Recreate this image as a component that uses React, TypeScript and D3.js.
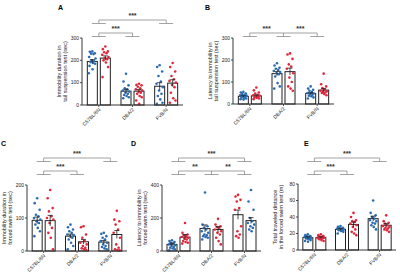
import React from "react";
import * as d3 from "d3";

const groups = ["C57BL/6N", "DBA/2", "FVB/N"];
const BLUE = "#2b6cb0";
const RED = "#e0263a";

// Panel A - tail suspension immobility (sec)
const aMeans = [195, 210, 62, 62, 84, 98];
const aSem = [8, 10, 8, 7, 16, 15];
const aPts = [
  [240, 238, 232, 230, 228, 215, 208, 200, 196, 192, 188, 185, 175, 160, 142],
  [262, 250, 240, 236, 232, 225, 215, 210, 205, 200, 190, 170, 125],
  [140, 105, 88, 75, 70, 65, 60, 55, 50, 45, 40, 35, 30],
  [95, 90, 88, 82, 75, 70, 65, 60, 55, 50, 40, 35, 20, 5],
  [178, 170, 150, 130, 105, 95, 80, 65, 50, 40, 25, 10, 5],
  [188, 170, 150, 130, 115, 108, 100, 90, 80, 55, 30, 20, 10],
];
// Panel B - latency to immobility tail suspension (sec)
const bMeans = [35, 37, 138, 147, 48, 63];
const bSem = [3, 4, 10, 16, 4, 7];
const bPts = [
  [55, 52, 48, 45, 42, 40, 38, 35, 33, 30, 28, 25, 22, 20],
  [75, 62, 52, 48, 42, 40, 38, 35, 33, 30, 28, 25, 22],
  [185, 175, 165, 160, 155, 150, 145, 140, 135, 125, 95, 80, 70],
  [230, 225, 205, 180, 170, 160, 140, 120, 100, 80, 70, 60],
  [80, 70, 65, 60, 55, 50, 48, 45, 42, 38, 35, 30, 25],
  [138, 90, 80, 72, 65, 60, 58, 55, 52, 50, 45, 40],
];
// Panel C - immobility forced swim (sec)
const cMeans = [93, 92, 45, 28, 27, 50];
const cSem = [10, 16, 6, 7, 5, 12];
const cPts = [
  [160, 145, 125, 110, 105, 100, 95, 90, 85, 80, 70, 60, 45],
  [185, 160, 130, 120, 105, 100, 95, 85, 70, 55, 40, 5],
  [80, 72, 65, 60, 55, 50, 48, 45, 40, 35, 25, 15, 5],
  [75, 72, 50, 40, 30, 25, 20, 15, 10, 8, 5, 3],
  [55, 52, 45, 40, 35, 30, 25, 20, 15, 12, 8, 5],
  [122, 95, 90, 80, 65, 55, 40, 20, 10, 5, 3, 2],
];
// Panel D - latency to immobility forced swim (sec); FVB/N shown red first
const dMeans = [40, 84, 136, 130, 220, 184];
const dSem = [8, 16, 22, 18, 28, 18];
const dPts = [
  [65, 60, 55, 50, 45, 40, 35, 30, 25, 20, 15, 10, 5],
  [170, 110, 100, 95, 90, 85, 80, 75, 70, 60, 55, 50, 45],
  [355, 160, 150, 140, 130, 120, 110, 100, 95, 90, 85, 80, 70],
  [195, 160, 150, 145, 140, 130, 120, 110, 100, 80, 60, 40],
  [340, 330, 310, 300, 260, 250, 150, 120, 100, 90, 80],
  [370, 300, 250, 200, 180, 170, 160, 150, 140, 130, 120],
];
const dColors = [BLUE, RED, BLUE, RED, RED, BLUE];
// Panel E - total traveled distance forced swim (m)
const eMeans = [15, 15, 25, 31, 38, 30];
const eSem = [1, 1, 1, 3, 3, 2];
const ePts = [
  [19, 18, 17, 17, 16, 16, 15, 15, 14, 14, 13, 12, 11, 10],
  [19, 18, 17, 16, 16, 15, 15, 14, 14, 13, 12, 11],
  [29, 28, 27, 27, 26, 26, 25, 25, 24, 24, 23, 22, 20],
  [45, 40, 36, 35, 34, 32, 30, 28, 25, 22, 20, 18],
  [60, 45, 42, 40, 38, 36, 35, 33, 32, 30, 28, 25],
  [42, 35, 33, 32, 30, 29, 28, 27, 26, 25, 24, 22],
];

const aTicks = [0, 100, 200, 300];
const bTicks = [0, 100, 200, 300];
const cTicks = [0, 100, 200];
const dTicks = [0, 200, 400];
const eTicks = [0, 20, 40, 60, 80];

const defColors = [BLUE, RED, BLUE, RED, BLUE, RED];

type Bracket = { y: number; g: number[]; stars: { pos: number; text: string }[] };

type PanelProps = {
  letter: string;
  lx: number;
  ly: number;
  x0: number;
  x1: number;
  yTop: number;
  y0: number;
  max: number;
  ticks: number[];
  means: number[];
  sem: number[];
  pts: number[][];
  colors: string[];
  title: string[];
  brackets: Bracket[];
};

const FONT = "Liberation Sans, Arial, sans-serif";

function Panel(p: PanelProps) {
  const xb = d3.scaleBand<string>().domain(groups).range([p.x0, p.x1]);
  const y = d3.scaleLinear().domain([0, p.max]).range([p.y0, p.yTop]);
  const cx = (g: number) => (xb(groups[g]) as number) + xb.bandwidth() / 2;
  const bw = 10;
  const off = 6.5;
  const jit = [0, -2.5, 2.5, -1.2, 1.2, -3.2, 3.2, -0.6, 1.8, -1.8, 0.6, 2.8, -2.8, 0.2, -3.6];
  const bars = p.means.map((m, i) => {
    const g = Math.floor(i / 2);
    const bx = cx(g) + (i % 2 === 0 ? -off : off);
    return { m, s: p.sem[i], bx, pts: p.pts[i], col: p.colors[i] };
  });
  return (
    <g>
      <text x={p.lx} y={p.ly} fontSize={7} fontWeight="bold" fontFamily={FONT}>
        {p.letter}
      </text>
      {/* brackets */}
      {p.brackets.map((b, bi) => {
        const xs = b.g.map(cx);
        const fy = b.y + 3.5;
        return (
          <g key={bi} stroke="#8c8c8c" strokeWidth={0.8} fill="none">
            <line x1={xs[0]} x2={xs[xs.length - 1]} y1={b.y} y2={b.y} />
            {xs.map((xx, k) => (
              <g key={k}>
                <line x1={xx} x2={xx} y1={b.y} y2={fy} />
                <line x1={xx - 7} x2={xx + 7} y1={fy} y2={fy} />
              </g>
            ))}
            {b.stars.map((s, k) => {
              const lo = Math.floor(s.pos);
              const fr = s.pos - lo;
              const sx = fr === 0 ? cx(lo) : cx(lo) + (cx(lo + 1) - cx(lo)) * fr;
              return (
                <text
                  key={"s" + k}
                  x={sx}
                  y={b.y - 2}
                  textAnchor="middle"
                  fontSize={7}
                  fontWeight="bold"
                  fill="#333"
                  stroke="none"
                  fontFamily={FONT}
                >
                  {s.text}
                </text>
              );
            })}
          </g>
        );
      })}
      {/* bars */}
      {bars.map((b, i) => (
        <rect
          key={"b" + i}
          x={b.bx - bw / 2}
          y={y(b.m)}
          width={bw}
          height={p.y0 - y(b.m)}
          fill="white"
          stroke="#222"
          strokeWidth={1}
        />
      ))}
      {/* points */}
      {bars.map((b, i) =>
        b.pts.map((v, k) => (
          <circle key={"p" + i + "-" + k} cx={b.bx + jit[k % jit.length]} cy={y(v)} r={1.3} fill={b.col} />
        ))
      )}
      {/* error bars */}
      {bars.map((b, i) => (
        <g key={"e" + i} stroke="#222" strokeWidth={0.8}>
          <line x1={b.bx} x2={b.bx} y1={y(b.m - b.s)} y2={y(b.m + b.s)} />
          <line x1={b.bx - 2.5} x2={b.bx + 2.5} y1={y(b.m + b.s)} y2={y(b.m + b.s)} />
        </g>
      ))}
      {/* axes */}
      <line x1={p.x0} x2={p.x0} y1={p.yTop} y2={p.y0} stroke="#222" strokeWidth={0.9} />
      <line x1={p.x0} x2={p.x1} y1={p.y0} y2={p.y0} stroke="#222" strokeWidth={0.9} />
      {p.ticks.map((t) => (
        <g key={"t" + t}>
          <line x1={p.x0 - 2} x2={p.x0} y1={y(t)} y2={y(t)} stroke="#222" strokeWidth={0.8} />
          <text x={p.x0 - 3} y={y(t) + 1.8} textAnchor="end" fontSize={5} fontFamily={FONT} fill="#222">
            {t}
          </text>
        </g>
      ))}
      {groups.map((g, gi) => (
        <g key={g}>
          <line x1={cx(gi)} x2={cx(gi)} y1={p.y0} y2={p.y0 + 2} stroke="#222" strokeWidth={0.8} />
          <text
            transform={`translate(${cx(gi) + 2},${p.y0 + 5}) rotate(-45)`}
            textAnchor="end"
            fontSize={5}
            fontFamily={FONT}
            fill="#222"
          >
            {g}
          </text>
        </g>
      ))}
      {p.title.map((t, k) => (
        <text
          key={"ti" + k}
          transform={`translate(${p.x0 - 21 + k * 6},${(p.yTop + p.y0) / 2}) rotate(-90)`}
          textAnchor="middle"
          fontSize={5.5}
          fontFamily={FONT}
          fill="#222"
        >
          {t}
        </text>
      ))}
    </g>
  );
}

export default function App() {
  return (
    <svg width={400} height={276} style={{ position: "absolute", left: 0, top: 0, background: "white" }}>
      <Panel
        letter="A" lx={58} ly={10} x0={82} x1={183} yTop={38} y0={105} max={300} ticks={aTicks}
        means={aMeans} sem={aSem} pts={aPts} colors={defColors}
        title={["Immobility duration in", "tail suspension test (sec)"]}
        brackets={[
          { y: 20, g: [0, 2], stars: [{ pos: 1, text: "***" }] },
          { y: 33, g: [0, 1], stars: [{ pos: 0.5, text: "***" }] },
        ]}
      />
      <Panel
        letter="B" lx={205} ly={10} x0={233} x1={334} yTop={38} y0={104} max={300} ticks={bTicks}
        means={bMeans} sem={bSem} pts={bPts} colors={defColors}
        title={["Latency to immobility in", "tail suspension test (sec)"]}
        brackets={[
          { y: 33, g: [0, 1, 2], stars: [{ pos: 0.5, text: "***" }, { pos: 1.5, text: "***" }] },
        ]}
      />
      <Panel
        letter="C" lx={1} ly={146} x0={27} x1={127} yTop={185} y0={251} max={200} ticks={cTicks}
        means={cMeans} sem={cSem} pts={cPts} colors={defColors}
        title={["Immobility duration in", "forced swim test (sec)"]}
        brackets={[
          { y: 158, g: [0, 2], stars: [{ pos: 1, text: "***" }] },
          { y: 171, g: [0, 1], stars: [{ pos: 0.5, text: "***" }] },
        ]}
      />
      <Panel
        letter="D" lx={131} ly={146} x0={162} x1={261} yTop={185} y0={251} max={400} ticks={dTicks}
        means={dMeans} sem={dSem} pts={dPts} colors={dColors}
        title={["Latency to immobility in", "forced swim test (sec)"]}
        brackets={[
          { y: 158, g: [0, 2], stars: [{ pos: 1, text: "***" }] },
          { y: 171, g: [0, 1, 2], stars: [{ pos: 0.5, text: "**" }, { pos: 1.5, text: "**" }] },
        ]}
      />
      <Panel
        letter="E" lx={304} ly={146} x0={298} x1={396} yTop={184} y0={250} max={80} ticks={eTicks}
        means={eMeans} sem={eSem} pts={ePts} colors={defColors}
        title={["Total traveled distance", "in the forced swim test (m)"]}
        brackets={[
          { y: 158, g: [0, 2], stars: [{ pos: 1, text: "***" }] },
          { y: 171, g: [0, 1], stars: [{ pos: 0.5, text: "***" }] },
        ]}
      />
    </svg>
  );
}
